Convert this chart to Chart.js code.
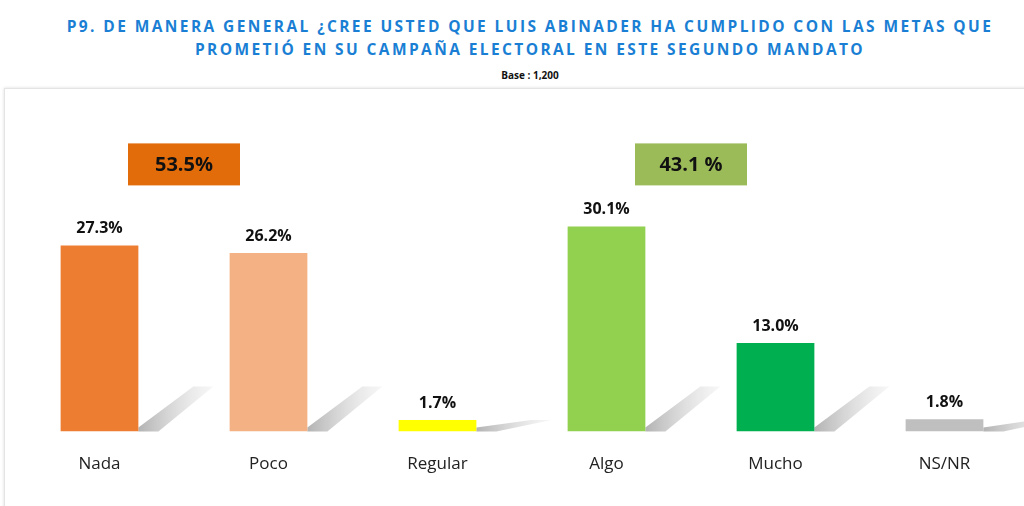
<!DOCTYPE html>
<html lang="es">
<head>
<meta charset="UTF-8">
<title>P9</title>
<script src="https://cdn.jsdelivr.net/npm/chart.js"></script>
<style>
  body { margin:0; width:1024px; height:506px; background:#fff; font-family:"Open Sans", sans-serif; position:relative; overflow:hidden; }
  #title { position:absolute; top:15px; left:0; width:1060px; text-align:center; color:#1a7fd4; font-weight:700; font-size:15.5px; letter-spacing:2.4px; line-height:23px; }
  #base { position:absolute; top:68px; left:0; width:1060px; text-align:center; font-size:10px; font-weight:700; color:#111; }
  #frame { position:absolute; left:4px; top:88px; width:1030px; height:430px; border:1px solid #e4e4e4; box-shadow:0 0 3px #ddd; }
  #wrap { position:absolute; left:15px; top:89px; width:1014px; height:417px; }
</style>
</head>
<body>
<div id="title">P9. DE MANERA GENERAL ¿CREE USTED QUE LUIS ABINADER HA CUMPLIDO CON LAS METAS QUE<br>PROMETIÓ EN SU CAMPAÑA ELECTORAL EN ESTE SEGUNDO MANDATO</div>
<div id="base">Base : 1,200</div>
<div id="frame"></div>
<div id="wrap"><canvas id="c"></canvas></div>
<script>
const categories = ['Nada', 'Poco', 'Regular', 'Algo', 'Mucho', 'NS/NR'];
const values = [27.3, 26.2, 1.7, 30.1, 13.0, 1.8];
const barColors = ['#ed7d31', '#f4b183', '#ffff00', '#92d050', '#00b050', '#bfbfbf'];
const groupLabels = ['53.5%', '43.1 %'];
const groupColors = ['#e36c0a', '#9bbb59'];

const decor = {
  id: 'decor',
  beforeDatasetsDraw(chart) {
    const ctx = chart.ctx;
    const meta = chart.getDatasetMeta(0);
    ctx.save();
    meta.data.forEach((b, i) => {
      const right = b.x + b.width / 2;
      const h = Math.min(b.base - b.y, 45);
      if (h < 10) return;
      const g = ctx.createLinearGradient(right, 0, right + 80, 0);
      g.addColorStop(0, 'rgba(170,170,170,0.9)');
      g.addColorStop(1, 'rgba(235,235,235,0.3)');
      ctx.fillStyle = g;
      ctx.beginPath();
      ctx.moveTo(right, b.base);
      ctx.lineTo(right, b.base - 4);
      ctx.lineTo(right + 55, b.base - h);
      ctx.lineTo(right + 75, b.base - h);
      ctx.lineTo(right + 20, b.base);
      ctx.closePath();
      ctx.fill();
    });
    ctx.restore();
  },
  afterDatasetsDraw(chart) {
    const ctx = chart.ctx;
    const meta = chart.getDatasetMeta(0);
    ctx.save();
    ctx.font = 'bold 16px "Open Sans", sans-serif';
    ctx.fillStyle = '#111';
    ctx.textAlign = 'center';
    ctx.textBaseline = 'bottom';
    meta.data.forEach((b, i) => {
      ctx.fillText(values[i].toFixed(1) + '%', b.x, b.y - 9);
    });
    const x = chart.scales.x, y = chart.scales.y;
    [[0, 1], [3, 4]].forEach((pair, k) => {
      const cx = (x.getPixelForValue(pair[0]) + x.getPixelForValue(pair[1])) / 2;
      const top = y.getPixelForValue(42.3);
      ctx.fillStyle = groupColors[k];
      ctx.fillRect(cx - 56, top, 112, 42);
      ctx.fillStyle = '#111';
      ctx.font = 'bold 20px "Open Sans", sans-serif';
      ctx.textBaseline = 'middle';
      ctx.fillText(groupLabels[k], cx, top + 22);
    });
    ctx.restore();
  }
};

new Chart(document.getElementById('c'), {
  type: 'bar',
  data: {
    labels: categories,
    datasets: [{ data: values, backgroundColor: barColors, barPercentage: 0.46, categoryPercentage: 1 }]
  },
  options: {
    responsive: true,
    maintainAspectRatio: false,
    animation: false,
    layout: { padding: { top: 36, left: 0, right: 0, bottom: 18 } },
    plugins: { legend: { display: false }, tooltip: { enabled: false } },
    scales: {
      y: { display: false, min: 0, max: 45 },
      x: {
        grid: { display: false },
        border: { display: false },
        ticks: { color: '#222', font: { size: 17, family: '"Open Sans", sans-serif' }, padding: 14 }
      }
    }
  },
  plugins: [decor]
});
</script>
</body>
</html>
